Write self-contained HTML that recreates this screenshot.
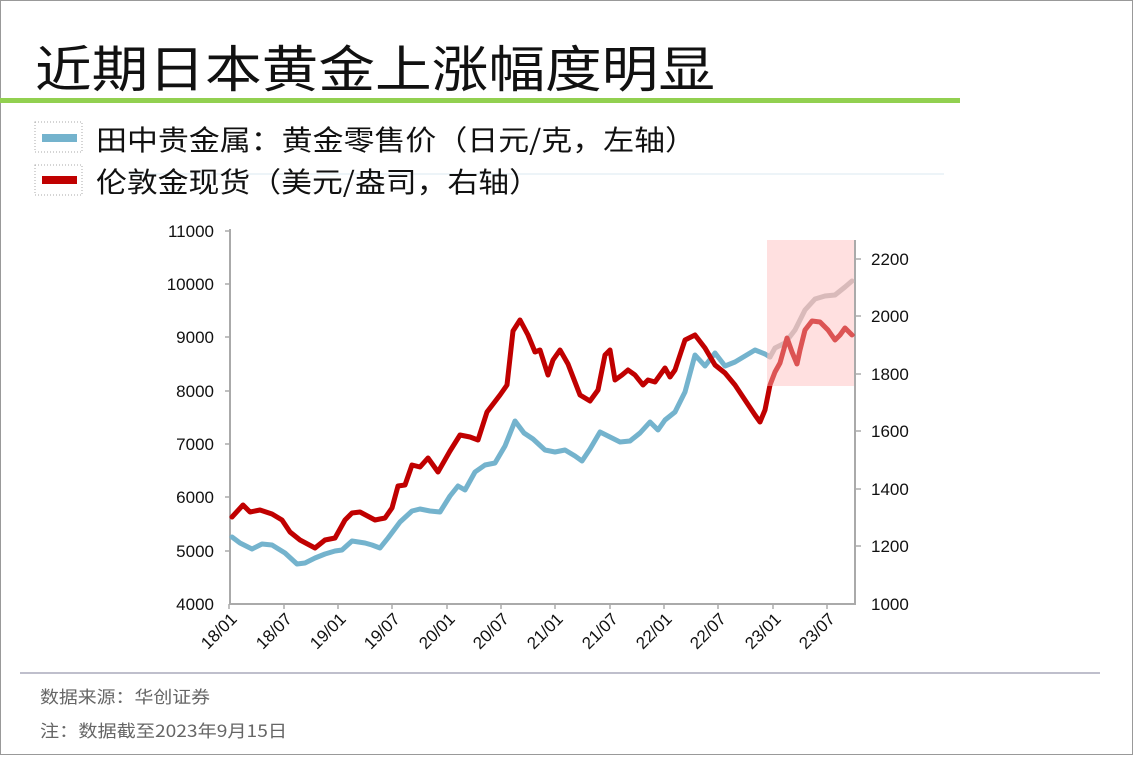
<!DOCTYPE html>
<html><head><meta charset="utf-8"><style>
body{margin:0;width:1134px;height:756px;background:#fff;overflow:hidden;font-family:"Liberation Sans","Noto Sans CJK SC",sans-serif;}
</style></head><body>
<svg width="1134" height="756" viewBox="0 0 1134 756" xmlns="http://www.w3.org/2000/svg" font-family="Liberation Sans, Noto Sans CJK SC, sans-serif">
<rect x="0.5" y="0.5" width="1132" height="754" fill="#fff" stroke="#999" stroke-width="1"/>
<text x="35" y="87" font-size="50" fill="#111" font-family="Noto Sans CJK SC, sans-serif" textLength="680" lengthAdjust="spacingAndGlyphs">近期日本黄金上涨幅度明显</text>
<rect x="0" y="98" width="960" height="5" fill="#92d050"/>
<line x1="130" y1="174" x2="944" y2="174" stroke="#dbe9f1" stroke-width="1"/>
<rect x="35" y="122" width="47" height="30" fill="none" stroke="#aaa" stroke-dasharray="1,2"/>
<rect x="42" y="134" width="35" height="8" fill="#74b3cd"/>
<text x="96" y="150" font-size="28" fill="#111" font-family="Noto Sans CJK SC, sans-serif" textLength="600" lengthAdjust="spacingAndGlyphs">田中贵金属：黄金零售价（日元/克，左轴）</text>
<rect x="35" y="165" width="47" height="30" fill="none" stroke="#aaa" stroke-dasharray="1,2"/>
<rect x="42" y="176" width="35" height="8" fill="#c00000"/>
<text x="96" y="192" font-size="28" fill="#111" font-family="Noto Sans CJK SC, sans-serif" textLength="444" lengthAdjust="spacingAndGlyphs">伦敦金现货（美元/盎司，右轴）</text>
<g stroke="#aaa" stroke-width="2" fill="none">
<line x1="230" y1="229" x2="230" y2="605"/>
<line x1="230" y1="604" x2="855" y2="604"/>
<line x1="855" y1="240" x2="855" y2="605"/>
</g>
<g stroke="#aaa" stroke-width="1.5">
<line x1="225" y1="231" x2="230" y2="231"/><line x1="225" y1="284" x2="230" y2="284"/><line x1="225" y1="337" x2="230" y2="337"/><line x1="225" y1="391" x2="230" y2="391"/><line x1="225" y1="444" x2="230" y2="444"/><line x1="225" y1="497" x2="230" y2="497"/><line x1="225" y1="551" x2="230" y2="551"/>
<line x1="855" y1="259" x2="861" y2="259"/><line x1="855" y1="316" x2="861" y2="316"/><line x1="855" y1="374" x2="861" y2="374"/><line x1="855" y1="431" x2="861" y2="431"/><line x1="855" y1="489" x2="861" y2="489"/><line x1="855" y1="546" x2="861" y2="546"/>
<line x1="229" y1="604" x2="229" y2="609"/><line x1="284" y1="604" x2="284" y2="609"/><line x1="338" y1="604" x2="338" y2="609"/><line x1="392" y1="604" x2="392" y2="609"/><line x1="447" y1="604" x2="447" y2="609"/><line x1="501" y1="604" x2="501" y2="609"/><line x1="555" y1="604" x2="555" y2="609"/><line x1="610" y1="604" x2="610" y2="609"/><line x1="664" y1="604" x2="664" y2="609"/><line x1="718" y1="604" x2="718" y2="609"/><line x1="773" y1="604" x2="773" y2="609"/><line x1="827" y1="604" x2="827" y2="609"/>
</g>
<g font-size="17" fill="#111" text-anchor="end">
<text x="214" y="237">11000</text><text x="214" y="290">10000</text><text x="214" y="343">9000</text><text x="214" y="397">8000</text><text x="214" y="450">7000</text><text x="214" y="503">6000</text><text x="214" y="557">5000</text><text x="214" y="610">4000</text>
</g>
<g font-size="17" fill="#111">
<text x="871" y="265">2200</text><text x="871" y="322">2000</text><text x="871" y="380">1800</text><text x="871" y="437">1600</text><text x="871" y="495">1400</text><text x="871" y="552">1200</text><text x="871" y="610">1000</text>
</g>
<g font-size="17" fill="#111" text-anchor="end">
<text transform="translate(238,620) rotate(-45)">18/01</text>
<text transform="translate(293,620) rotate(-45)">18/07</text>
<text transform="translate(347,620) rotate(-45)">19/01</text>
<text transform="translate(401,620) rotate(-45)">19/07</text>
<text transform="translate(456,620) rotate(-45)">20/01</text>
<text transform="translate(510,620) rotate(-45)">20/07</text>
<text transform="translate(564,620) rotate(-45)">21/01</text>
<text transform="translate(619,620) rotate(-45)">21/07</text>
<text transform="translate(673,620) rotate(-45)">22/01</text>
<text transform="translate(727,620) rotate(-45)">22/07</text>
<text transform="translate(782,620) rotate(-45)">23/01</text>
<text transform="translate(836,620) rotate(-45)">23/07</text>
</g>
<g fill="none" stroke-width="5" stroke-linejoin="round" stroke-linecap="round">
<polyline stroke="#74b3cd" points="232,537 240,543 252,549 262,544 272,545 285,553 297,564 305,563 315,558 325,554 335,551 342,550 352,541 365,543 372,545 380,548 388,538 400,522 412,511 420,509 430,511 440,512 450,496 458,486 465,490 475,472 485,465 495,463 505,446 515,421 524,433 533,439 545,450 555,452 565,450 575,456 582,461 590,449 600,432 610,437 620,442 630,441 640,433 650,422 658,430 665,420 675,412 685,392 695,355 705,366 715,353 725,366 735,362 745,356 755,350 765,354 770,357"/>
<polyline stroke="#bbb" points="770,357 775,348 785,343 795,330 805,310 815,299 825,296 835,295 845,287 852,281"/>
<polyline stroke="#c00000" points="232,517 243,505 250,512 260,510 272,514 282,520 290,532 300,540 315,548 325,540 335,538 345,520 352,513 360,512 375,520 385,518 392,508 398,486 405,485 412,465 420,467 428,458 438,472 450,451 460,435 470,437 478,440 487,412 500,395 507,385 513,331 520,320 528,335 535,352 540,350 548,375 553,360 560,350 568,364 580,395 590,401 598,390 605,355 610,350 615,380 622,375 628,370 635,375 643,385 648,380 655,382 665,368 670,377 675,370 685,340 695,335 705,348 715,365 725,373 735,385 745,400 755,415 760,422 765,410 770,385 775,372 780,363 787,338 792,352 797,364 800,350 805,330 812,321 820,322 828,330 835,340 840,335 845,328 852,335"/>
</g>
<rect x="767" y="240" width="87" height="146" fill="#fbb" fill-opacity="0.45"/>
<line x1="20" y1="673" x2="1100" y2="673" stroke="#aab" stroke-width="1.5"/>
<text x="40" y="703" font-size="17" fill="#666" font-family="Noto Sans CJK SC, sans-serif" textLength="170" lengthAdjust="spacingAndGlyphs">数据来源：华创证券</text>
<text x="40" y="737" font-size="17" fill="#666" font-family="Noto Sans CJK SC, sans-serif" textLength="247" lengthAdjust="spacingAndGlyphs">注：数据截至2023年9月15日</text>
</svg>
</body></html>
